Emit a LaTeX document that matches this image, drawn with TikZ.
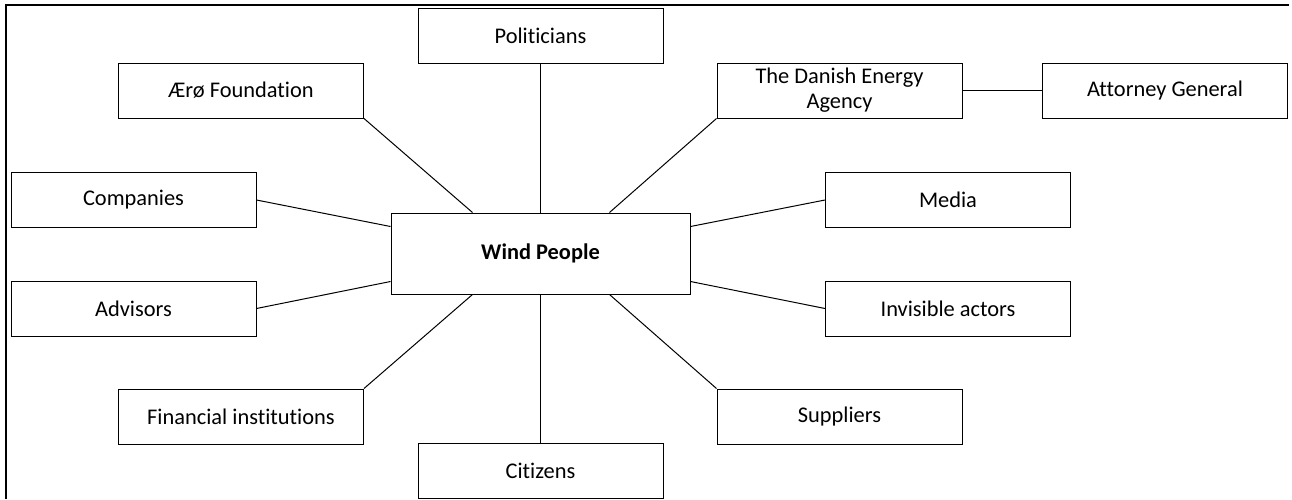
\documentclass[tikz,border=0pt]{standalone}
\usepackage{fontspec}
\setmainfont{Carlito}[Ligatures=NoCommon]
\usetikzlibrary{calc}

\begin{document}
\begin{tikzpicture}[
            x=0.5pt, y=-0.5pt,
            actor/.style={rectangle, draw, line width=0.5pt, minimum width=122.5pt, minimum height=27.5pt, inner sep=1pt, align=center, font=\fontsize{11.2}{12.5}\selectfont},
            hub/.style={rectangle, draw, line width=0.5pt, minimum width=149.5pt, minimum height=40.5pt, align=center, font=\fontsize{11.2}{12.5}\selectfont\bfseries},
            link/.style={line width=0.5pt}
        ]
        \useasboundingbox (0,0) rectangle (1292,499);

        % Frame (top and left edge only)
        \draw[line width=1.1pt] (6,499) -- (6,5) -- (1289,5);

        % Centre
        \node[hub] (wind) at (540.5,253.5) {Wind People};

        % Top row
        \node[actor] (politicians) at (540.5,36) {Politicians};
        \node[actor] (aero) at (241,90.5) {Ærø Foundation};
        \node[actor] (dea) at (839.5,90.5) {The Danish Energy\\Agency};
        \node[actor] (attorney) at (1165,90.5) {Attorney General};

        % Middle rows
        \node[actor] (companies) at (133.5,200) {Companies};
        \node[actor] (media) at (948,200) {Media};
        \node[actor] (advisors) at (133.5,308.5) {Advisors};
        \node[actor] (invisible) at (948,308.5) {Invisible actors};

        % Bottom row
        \node[actor] (financial) at (241,416.5) {Financial institutions};
        \node[actor] (suppliers) at (839.5,416.5) {Suppliers};
        \node[actor] (citizens) at (540.5,470.5) {Citizens};

        % Links to the centre
        \draw[link] (politicians) -- (wind);
        \draw[link] (citizens) -- (wind);
        \draw[link] (aero.south east) -- ($(wind.north west)+(82,0)$);
        \draw[link] (dea.south west) -- ($(wind.north east)+(-81,0)$);
        \draw[link] (financial.north east) -- ($(wind.south west)+(82,0)$);
        \draw[link] (suppliers.north west) -- ($(wind.south east)+(-81,0)$);
        \draw[link] (companies.east) -- ($(wind.north west)+(0,14)$);
        \draw[link] (advisors.east) -- ($(wind.south west)+(0,-13)$);
        \draw[link] (media.west) -- ($(wind.north east)+(0,14)$);
        \draw[link] (invisible.west) -- ($(wind.south east)+(0,-13)$);
        \draw[link] (dea) -- (attorney);

    \end{tikzpicture}
\end{document}
